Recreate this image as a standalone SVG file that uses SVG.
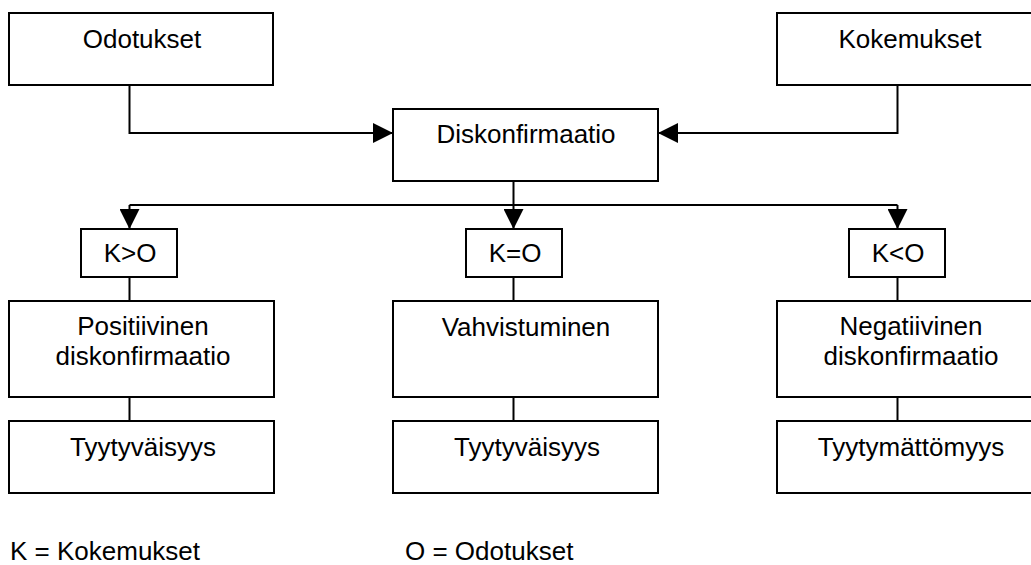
<svg xmlns="http://www.w3.org/2000/svg" width="1031" height="565" viewBox="0 0 1031 565">
  <style>
    .box { fill: #ffffff; stroke: #000000; stroke-width: 2; }
    .lbl { font-family: "Liberation Sans", Arial, sans-serif; font-size: 26px; fill: #000000; text-anchor: middle; }
    .leg { font-family: "Liberation Sans", Arial, sans-serif; font-size: 26px; fill: #000000; }
    .wire { fill: none; stroke: #000000; stroke-width: 2; }
  </style>
  <defs>
    <marker id="arrow" viewBox="0 0 20 20" refX="20" refY="10" markerWidth="20" markerHeight="20" markerUnits="userSpaceOnUse" orient="auto">
      <path d="M0,0 L20,10 L0,20 Z" fill="#000000"/>
    </marker>
  </defs>
  <rect width="1031" height="565" fill="#ffffff"/>

  <!-- connectors -->
  <g id="connectors">
    <path class="wire" d="M129.5,85 V133 H393" marker-end="url(#arrow)"/>
    <path class="wire" d="M897.5,85 V133 H658" marker-end="url(#arrow)"/>
    <path class="wire" d="M513.5,181 V205"/>
    <path class="wire" d="M129.5,205 H897.5"/>
    <path class="wire" d="M129.5,205 V229" marker-end="url(#arrow)"/>
    <path class="wire" d="M513.5,205 V229" marker-end="url(#arrow)"/>
    <path class="wire" d="M897.5,205 V229" marker-end="url(#arrow)"/>
    <path class="wire" d="M129.5,277 V301 M513.5,277 V301 M897.5,277 V301"/>
    <path class="wire" d="M129.5,397 V421 M513.5,397 V421 M897.5,397 V421"/>
  </g>

  <!-- top row -->
  <g id="odotukset">
    <rect class="box" x="9" y="13" width="264" height="72"/>
    <text class="lbl" x="142" y="48">Odotukset</text>
  </g>
  <g id="kokemukset">
    <rect class="box" x="777" y="13" width="264" height="72"/>
    <text class="lbl" x="910" y="48">Kokemukset</text>
  </g>
  <g id="diskonfirmaatio">
    <rect class="box" x="393" y="109" width="265" height="72"/>
    <text class="lbl" x="526" y="143">Diskonfirmaatio</text>
  </g>

  <!-- comparison boxes -->
  <g id="k-gt-o">
    <rect class="box" x="81" y="229" width="96" height="48"/>
    <text class="lbl" x="130" y="262">K&gt;O</text>
  </g>
  <g id="k-eq-o">
    <rect class="box" x="466" y="229" width="96" height="48"/>
    <text class="lbl" x="515" y="262">K=O</text>
  </g>
  <g id="k-lt-o">
    <rect class="box" x="849" y="229" width="96" height="48"/>
    <text class="lbl" x="898" y="262">K&lt;O</text>
  </g>

  <!-- outcome boxes -->
  <g id="positiivinen">
    <rect class="box" x="9" y="301" width="265" height="96"/>
    <text class="lbl" x="143" y="335">Positiivinen</text>
    <text class="lbl" x="143" y="365">diskonfirmaatio</text>
  </g>
  <g id="vahvistuminen">
    <rect class="box" x="393" y="301" width="265" height="96"/>
    <text class="lbl" x="526" y="336">Vahvistuminen</text>
  </g>
  <g id="negatiivinen">
    <rect class="box" x="777" y="301" width="265" height="96"/>
    <text class="lbl" x="911" y="335">Negatiivinen</text>
    <text class="lbl" x="911" y="365">diskonfirmaatio</text>
  </g>

  <!-- satisfaction boxes -->
  <g id="tyytyvaisyys-1">
    <rect class="box" x="9" y="421" width="265" height="72"/>
    <text class="lbl" x="143" y="456">Tyytyväisyys</text>
  </g>
  <g id="tyytyvaisyys-2">
    <rect class="box" x="393" y="421" width="265" height="72"/>
    <text class="lbl" x="527" y="456">Tyytyväisyys</text>
  </g>
  <g id="tyytymattomyys">
    <rect class="box" x="777" y="421" width="265" height="72"/>
    <text class="lbl" x="911" y="456">Tyytymättömyys</text>
  </g>

  <!-- legend -->
  <g id="legend">
    <text class="leg" x="10" y="560">K = Kokemukset</text>
    <text class="leg" x="405" y="560">O = Odotukset</text>
  </g>
</svg>
